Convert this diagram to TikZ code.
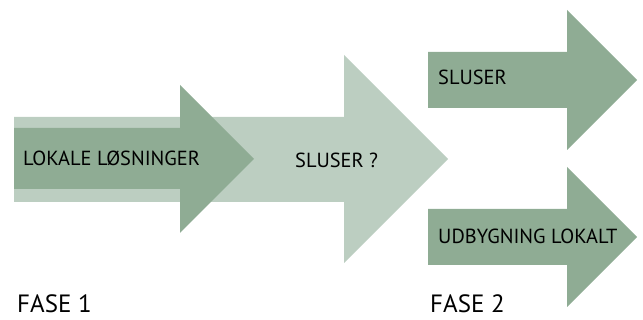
\documentclass[tikz,border=0pt]{standalone}
\usepackage{fontspec}
\setmainfont{PT Sans}
\definecolor{darkgreen}{HTML}{8FAC94}
\definecolor{lightgreen}{HTML}{BCCEC1}
\begin{document}
\begin{tikzpicture}
          [x=1pt,y=-1pt,every node/.style={inner sep = 0pt, anchor = base west, text depth = 0pt},
           label/.style={font=\fontsize{20.4}{20.4}\selectfont},
           fase/.style={font=\fontsize{25}{25}\selectfont}]
        \useasboundingbox (0,0) rectangle (643,320);

        % fase 1
        \fill[lightgreen] (14,117) -- (344,117) -- (344,55) -- (448,159) -- (344,263) -- (344,202) -- (14,202) -- cycle;
        \fill[darkgreen] (14,128) -- (180,128) -- (180,85) -- (254,159) -- (180,233) -- (180,189) -- (14,189) -- cycle;

        % fase 2
        \foreach \yy in {80, 237}
          \fill[darkgreen] (428,\yy-28) -- (567,\yy-28) -- (567,\yy-70) -- (637,\yy) -- (567,\yy+70) -- (567,\yy+28) -- (428,\yy+28) -- cycle;

        \node[label] (lokale) at (23,166) {LOKALE LØSNINGER};
        \node[label] (sluserq) at (295,168) {SLUSER ?};
        \node[label] (sluser) at (438,85) {SLUSER};
        \node[label] (udbyg) at (438,244) {UDBYGNING LOKALT};

        \node[fase] (fase1) at (17,313) {FASE 1};
        \node[fase] (fase2) at (430,313) {FASE 2};
      \end{tikzpicture}
\end{document}
